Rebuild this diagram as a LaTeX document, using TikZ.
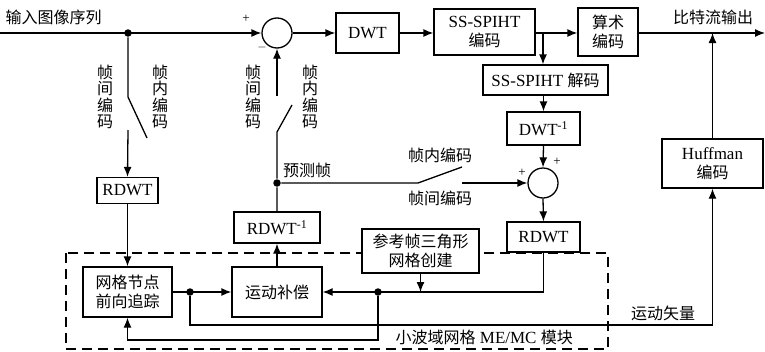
\documentclass[tikz,border=0pt]{standalone}
\usepackage{fontspec}
\setmainfont{Liberation Serif}
\newfontfamily\cjk{Noto Sans CJK SC}
\usetikzlibrary{arrows.meta,calc}
\newcommand\zh[1]{{\cjk\fontsize{16}{19}\selectfont #1}}
\begin{document}
\begin{tikzpicture}[x=1pt,y=-1pt,
  line width=1.3pt,
  arr/.style={-{Latex[length=10pt,width=8pt]}},
  box/.style={draw,fill=white,inner sep=0pt,align=center,font=\fontsize{17}{19}\selectfont},
  sumc/.style={draw,circle,minimum size=30pt,inner sep=0pt},
  dotc/.style={circle,fill,inner sep=0pt,minimum size=7.5pt},
  lbl/.style={inner sep=0pt,font=\cjk\fontsize{16}{19}\selectfont},
  vlbl/.style={inner sep=0pt,align=center,font=\cjk\fontsize{16}{16.3}\selectfont},
  pm/.style={inner sep=0pt,font=\fontsize{13}{13}\selectfont},
  dashbox/.style={line width=1.1pt,dash pattern=on 10pt off 6pt}
]
\useasboundingbox (0,0) rectangle (765,351);

% dashed module frame
\draw[dashbox] (66,253) rectangle (608,349);

% top row
\coordinate (in) at (0,33);
\node[dotc] (d1) at (128,33) {};
\node[sumc] (s1) at (277,33) {};
\node[box,minimum width=63pt,minimum height=40pt] (dwt) at (367.5,33) {DWT};
\node[box,minimum width=101pt,minimum height=46pt] (spiht) at (484.5,32) {SS-SPIHT\\\zh{编码}};
\coordinate (b1) at (543,33);
\node[box,minimum width=60pt,minimum height=48pt] (arith) at (608,32) {\zh{算术}\\\zh{编码}};
\coordinate (out) at (765,33);

\node[box,minimum width=125pt,minimum height=30pt] (dec) at (545.5,80) {SS-SPIHT \zh{解码}};
\node[box,minimum width=73pt,minimum height=33pt] (idwt) at (543.5,128.5) {DWT\textsuperscript{-1}};
\node[sumc] (s2) at (543,183) {};
\node[box,minimum width=73pt,minimum height=30pt] (rdwt2) at (543.5,237) {RDWT};
\node[box,minimum width=101pt,minimum height=49pt] (huff) at (712.5,163.5) {Huffman\\\zh{编码}};

% left / middle
\node[box,minimum width=61pt,minimum height=26pt] (rdwt1) at (127.5,190.5) {RDWT};
\node[box,minimum width=89pt,minimum height=50pt] (track) at (127.5,292) {\zh{网格节点}\\\zh{前向追踪}};
\node[box,minimum width=90pt,minimum height=50pt] (mc) at (277,292) {\zh{运动补偿}};
\node[box,minimum width=86pt,minimum height=31pt] (idwtr) at (277,227.5) {RDWT\textsuperscript{-1}};
\node[box,minimum width=117pt,minimum height=44pt] (ref) at (420.5,251) {\zh{参考帧三角形}\\\zh{网格创建}};
\node[dotc] (pd) at (277,183) {};
\node[dotc] (md) at (378,292) {};
\node[dotc] (td) at (190,292) {};

% switch points
\coordinate (sw1a) at (128,97);
\coordinate (sw1b) at (147,138);
\coordinate (sw1c) at (128,130);
\coordinate (sw2a) at (277,132);
\coordinate (sw2b) at (292,105);
\coordinate (sw2c) at (277,96);
\coordinate (sw3a) at (418,183);
\coordinate (sw3b) at (462,167);
\coordinate (sw3c) at (462,183);
\coordinate (m1) at (378,340);
\coordinate (m2) at (127.5,340);
\coordinate (t1) at (190,325);
\coordinate (t2) at (712.5,325);

% connectors top
\draw[arr] (in) -- (s1.west);
\draw[arr] (s1.east) -- (dwt.west);
\draw[arr] (dwt.east) -- (spiht.west |- dwt.east);
\draw[arr] (spiht.east |- b1) -- (arith.west |- b1);
\draw[arr] (arith.east |- out) -- (out);
\draw[arr] (huff.north) -- (huff.north |- out);
\draw[arr] (b1) -- (b1 |- dec.north);
\draw[arr] (dec.south -| idwt) -- (idwt.north);
\draw[arr] (idwt.south) -- (s2.north);
\draw[arr] (s2.south) -- (rdwt2.north);

% switches
\draw (d1) -- (sw1a) -- (sw1b);
\draw[arr] (sw1c) -- (rdwt1.north);
\draw[arr] (rdwt1.south) -- (track.north);
\draw (idwtr.north) -- (pd) -- (sw2a) -- (sw2b);
\draw[arr] (sw2c) -- (s1.south);
\draw (pd) -- (sw3a) -- (sw3b);
\draw[arr] (sw3c) -- (s2.west);

% module
\draw[arr] (rdwt2.south) -- (rdwt2.south |- mc.east) -- (mc.east);
\draw[arr] (ref.south) -- (ref.south |- mc.east);
\draw[arr] (md) -- (m1) -- (m2) -- (track.south);
\draw[arr] (track.east) -- (mc.west);
\draw[arr] (td) -- (t1) -- (t2) -- (huff.south);
\draw[arr] (mc.north) -- (idwtr.south);

% labels
\node[lbl,anchor=west] (tin) at (5,17) {输入图像序列};
\node[lbl] (tout) at (713,17) {比特流输出};
\node[vlbl] (l1) at (105,97) {帧\\间\\编\\码};
\node[vlbl] (l2) at (160,97) {帧\\内\\编\\码};
\node[vlbl] (l3) at (253,97) {帧\\间\\编\\码};
\node[vlbl] (l4) at (310,97) {帧\\内\\编\\码};
\node[lbl] (l5) at (307,170) {预测帧};
\node[lbl] (l6) at (440,155) {帧内编码};
\node[lbl] (l7) at (440,198) {帧间编码};
\node[lbl] (l8) at (663,313) {运动矢量};
\node[inner sep=0pt,anchor=west,font=\fontsize{17}{19}\selectfont] (l9) at (395,337) {\zh{小波域网格} ME/MC \zh{模块}};
\node[pm] (p1) at (246,19) {+};
\node[pm] (p2) at (262,47) {$-$};
\node[pm] (p3) at (522,173) {+};
\node[pm] (p4) at (557,162) {+};
\end{tikzpicture}
\end{document}
